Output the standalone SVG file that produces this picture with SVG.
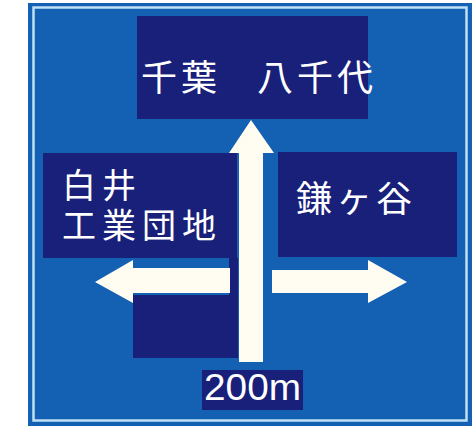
<svg xmlns="http://www.w3.org/2000/svg" width="474" height="430" viewBox="0 0 474 430">
<style>
.box{fill:#19207a}
.arrow{fill:#fffcf2}
.t{font-family:"Noto Sans CJK JP","Noto Sans",sans-serif;font-size:36px;fill:#ffffff;letter-spacing:4px}
.t2{font-family:"Liberation Sans","Noto Sans CJK JP",sans-serif;font-size:34px;fill:#ffffff;letter-spacing:6px}
.n{font-family:"Liberation Sans",Arial,sans-serif;font-size:37px;fill:#ffffff}
</style>
<rect x="0" y="0" width="474" height="430" fill="#ffffff"/>
<g id="sign">
<rect x="28" y="3" width="444" height="423" fill="#1461b3"/>
<rect x="33.5" y="7.5" width="433" height="413" fill="none" stroke="#bfe0f5" stroke-width="2.5"/>
</g>
<g id="node-top">
<rect class="box" x="137" y="16" width="231" height="103"/>
<text class="t" x="141" y="91">千葉</text>
<text class="t" x="257" y="91">八千代</text>
</g>
<g id="node-left">
<rect class="box" x="43" y="153" width="194" height="105"/>
<text class="t2" x="62" y="198">白井</text>
<text class="t2" x="62" y="238">工業団地</text>
</g>
<g id="node-right">
<rect class="box" x="278" y="152" width="179" height="105"/>
<text class="t" x="296" y="212">鎌ヶ谷</text>
</g>
<g id="node-bottom">
<rect class="box" x="133" y="295" width="105" height="63"/>
<rect class="box" x="229" y="258" width="9" height="40"/>
</g>
<g id="node-distance">
<rect class="box" x="202" y="370" width="101" height="40"/>
<text class="n" x="204" y="400" textLength="97" lengthAdjust="spacingAndGlyphs">200m</text>
</g>
<g id="connectors">
<polygon class="arrow" points="251,120 274,153 263,153 263,362 239,362 239,153 229,153"/>
<polygon class="arrow" points="95,282 133,260 133,268 230,268 230,293 133,293 133,303"/>
<polygon class="arrow" points="407,282 368,260 368,270 272,270 272,293 368,293 368,303"/>
</g>
</svg>
